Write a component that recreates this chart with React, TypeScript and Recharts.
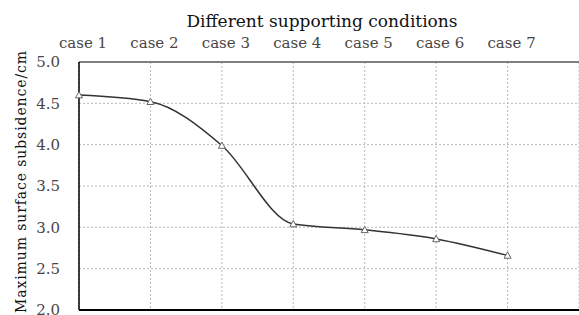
import React from 'react';
import { LineChart, Line, XAxis, YAxis, CartesianGrid, ReferenceLine, Label } from 'recharts';

const categories = ['case 1', 'case 2', 'case 3', 'case 4', 'case 5', 'case 6', 'case 7'];
const subsidence = [4.6, 4.52, 3.99, 3.04, 2.97, 2.86, 2.66];
const yTicks = [2.0, 2.5, 3.0, 3.5, 4.0, 4.5, 5.0];

const data = categories.map((c, i) => ({ x: i, name: c, v: subsidence[i] }));

const Tri = (props: any) => {
  const { cx, cy } = props;
  if (cx == null || cy == null) return null;
  const s = 3.5;
  return (
    <path
      d={`M${cx},${cy - s} L${cx + s},${cy + s * 0.8} L${cx - s},${cy + s * 0.8} Z`}
      fill="#fff"
      stroke="#666"
      strokeWidth={1}
    />
  );
};

const serif = "'DejaVu Serif', serif";

export default function App() {
  return (
    <div style={{ position: 'absolute', left: 0, top: 0, width: 579, height: 315, background: '#fff' }}>
      <LineChart width={579} height={315} data={data} margin={{ top: 0, right: 0, bottom: 5, left: 0 }}>
        <CartesianGrid stroke="#b8b8b8" strokeDasharray="2 2" />
        <XAxis
          dataKey="x"
          type="number"
          orientation="top"
          domain={[0, 7]}
          ticks={[0, 1, 2, 3, 4, 5, 6]}
          tickFormatter={(v: number) => categories[v]}
          height={62}
          tickSize={0}
          tickMargin={14}
          axisLine={{ stroke: '#808080', strokeWidth: 2 }}
          tick={{ fill: '#4a4646', fontSize: 15, fontFamily: serif, dx: 4 }}
        >
          <Label
            content={() => (
              <text x={322} y={27} textAnchor="middle" fontFamily={serif} fontSize={17} fill="#111">
                Different supporting conditions
              </text>
            )}
          />
        </XAxis>
        <YAxis
          type="number"
          domain={[2, 5]}
          ticks={yTicks}
          interval={0}
          tickFormatter={(v: number) => v.toFixed(1)}
          width={79}
          tickSize={0}
          tickMargin={19}
          axisLine={{ stroke: '#000', strokeWidth: 1.5 }}
          tick={{ fill: '#4a4646', fontSize: 15, fontFamily: serif }}
        >
          <Label
            content={() => (
              <text
                x={0}
                y={0}
                transform="translate(26,182) rotate(-90)"
                textAnchor="middle"
                fontFamily={serif}
                fontSize={14}
                textLength={262}
                lengthAdjust="spacing"
                fill="#111"
              >
                Maximum surface subsidence/cm
              </text>
            )}
          />
        </YAxis>
        <ReferenceLine y={2} stroke="#000" strokeWidth={2} />
        <Line
          type="monotone"
          dataKey="v"
          stroke="#333"
          strokeWidth={1.5}
          dot={<Tri />}
          activeDot={false}
          isAnimationActive={false}
        />
      </LineChart>
    </div>
  );
}
